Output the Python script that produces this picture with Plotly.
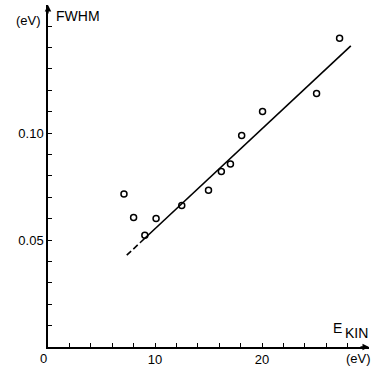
import plotly.graph_objects as go

# Data
ekin = [7.1, 8.0, 9.05, 10.1, 12.5, 15.0, 16.2, 17.05, 18.1, 20.05, 25.1, 27.25]
fwhm = [0.0715, 0.0605, 0.0522, 0.0601, 0.0661, 0.0733, 0.0820, 0.0855, 0.0988, 0.1101, 0.1185, 0.1443]

fit_solid_x = [8.6, 28.3]
fit_solid_y = [0.0487, 0.1407]
fit_dash_x = [7.36, 8.6]
fit_dash_y = [0.0429, 0.0487]

x_tickvals = list(range(0, 29, 2))
x_ticktext = ["" if v not in (10, 20) else str(v) for v in x_tickvals]
y_tickvals = [round(0.01 * i, 2) for i in range(1, 16)]
y_ticktext = ["0.05" if abs(v - 0.05) < 1e-9 else ("0.10" if abs(v - 0.10) < 1e-9 else "") for v in y_tickvals]

W, H = 372, 369
ML, MR, MT, MB = 48, 3, 5, 22
PW, PH = W - ML - MR, H - MT - MB
XMAX = PW / 10.7
YMAX = PH / 2140.0

def px(x):
    return (x - ML) / PW

def py(y):
    return (H - MB - y) / PH

FONT = "Liberation Sans"

def label(x, y, text, size=13):
    return dict(x=px(x), y=py(y), xref="paper", yref="paper", text=text, showarrow=False,
                xanchor="center", yanchor="middle",
                font=dict(family=FONT, size=size, color="black"))

fig = go.Figure()
fig.add_trace(go.Scatter(x=fit_dash_x, y=fit_dash_y, mode="lines",
                         line=dict(color="black", width=1.6, dash="6px,3px"),
                         showlegend=False, hoverinfo="skip"))
fig.add_trace(go.Scatter(x=fit_solid_x, y=fit_solid_y, mode="lines",
                         line=dict(color="black", width=1.6),
                         showlegend=False, hoverinfo="skip"))
fig.add_trace(go.Scatter(x=ekin, y=fwhm, mode="markers",
                         marker=dict(symbol="circle-open", size=6, color="black",
                                     line=dict(width=1.5, color="black")),
                         showlegend=False))

annotations = [
    dict(x=XMAX, y=0, xref="x", yref="y", ax=-10, ay=0, axref="pixel", ayref="pixel",
         text="", showarrow=True, arrowhead=2, arrowsize=1, arrowwidth=1.3, arrowcolor="black"),
    dict(x=0, y=YMAX, xref="x", yref="y", ax=0, ay=10, axref="pixel", ayref="pixel",
         text="", showarrow=True, arrowhead=2, arrowsize=1, arrowwidth=1.3, arrowcolor="black"),
    label(28, 20, "(eV)"),
    label(78, 16, "FWHM", 14),
    label(337.5, 328, "E", 14),
    label(356, 333, "KIN", 14),
    label(358, 358, "(eV)"),
    label(43.5, 358, "0"),
]

fig.update_layout(
    width=W, height=H,
    margin=dict(l=ML, r=MR, t=MT, b=MB, pad=0),
    paper_bgcolor="white", plot_bgcolor="white",
    font=dict(family=FONT, size=13, color="black"),
    annotations=annotations,
    xaxis=dict(range=[0, XMAX], showgrid=False, zeroline=False, showline=True,
               linecolor="black", linewidth=1.5, ticks="inside", ticklen=4,
               tickwidth=1.2, tickcolor="black", tickvals=x_tickvals, ticktext=x_ticktext,
               tickfont=dict(family=FONT, size=13)),
    yaxis=dict(range=[0, YMAX], showgrid=False, zeroline=False, showline=True,
               linecolor="black", linewidth=1.5, ticks="inside", ticklen=4,
               tickwidth=1.2, tickcolor="black", tickvals=y_tickvals, ticktext=y_ticktext,
               tickfont=dict(family=FONT, size=13)),
)

fig.write_html("out.html")
